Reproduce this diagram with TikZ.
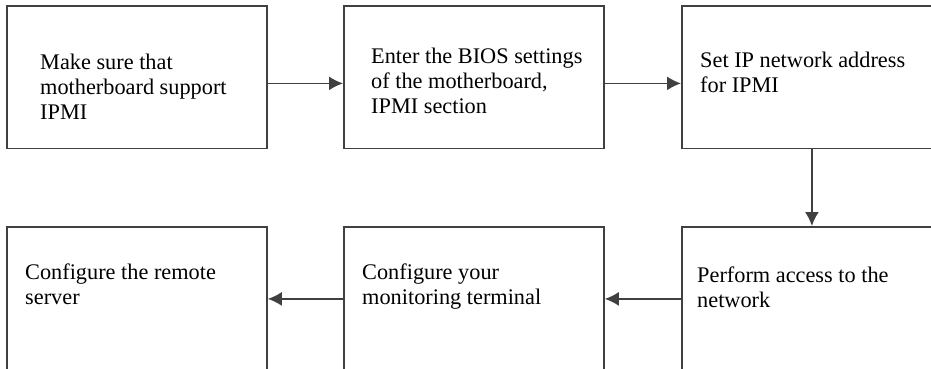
\documentclass[tikz,border=0pt]{standalone}
\usepackage{fontspec}
\setmainfont{Liberation Serif}
\usetikzlibrary{arrows.meta}

\begin{document}
\begin{tikzpicture}[x=1pt, y=-1pt, >={Latex[length=14pt, width=14pt]},
	stage/.style={draw=black!75, line width=1.8pt, anchor=north west, minimum width=260pt, inner sep=0pt},
	caption/.style={anchor=north west, inner sep=0pt, align=left, font=\fontsize{22.3}{25}\selectfont}]
	\useasboundingbox (0,0) rectangle (931,369);
	\clip (0,0) rectangle (931,369);
	% top row
	\node[stage, minimum height=142pt] (sure) at (6,5.5) {};
	\node[stage, minimum height=142pt] (bios) at (343,5.5) {};
	\node[stage, minimum height=142pt] (ipaddr) at (681,5.5) {};
	% bottom row
	\node[stage, minimum height=144pt] (remote) at (6,226) {};
	\node[stage, minimum height=144pt] (terminal) at (343,226) {};
	\node[stage, minimum height=144pt] (access) at (681,226) {};
	% texts
	\node[caption] (sure-t) at (40,54) {Make sure that\\motherboard support\\IPMI};
	\node[caption] (bios-t) at (371,48) {Enter the BIOS settings\\of the motherboard,\\IPMI section};
	\node[caption] (ipaddr-t) at (700,51.5) {Set IP network address\\for IPMI};
	\node[caption] (remote-t) at (25,264) {Configure the remote\\server};
	\node[caption] (terminal-t) at (362,264) {Configure your\\monitoring terminal};
	\node[caption] (access-t) at (697,267) {Perform access to the\\network};
	% arrows
	\draw[->, black!75, line width=1.6pt] ([yshift=-6pt]sure.east) -- ([yshift=-6pt]bios.west);
	\draw[->, black!75, line width=1.6pt] ([yshift=-6pt]bios.east) -- ([yshift=-6pt]ipaddr.west);
	\draw[->, black!75, line width=1.6pt] (ipaddr.south) -- (access.north);
	\draw[->, black!75, line width=1.6pt] (access.west) -- (terminal.east);
	\draw[->, black!75, line width=1.6pt] (terminal.west) -- (remote.east);
\end{tikzpicture}
\end{document}
